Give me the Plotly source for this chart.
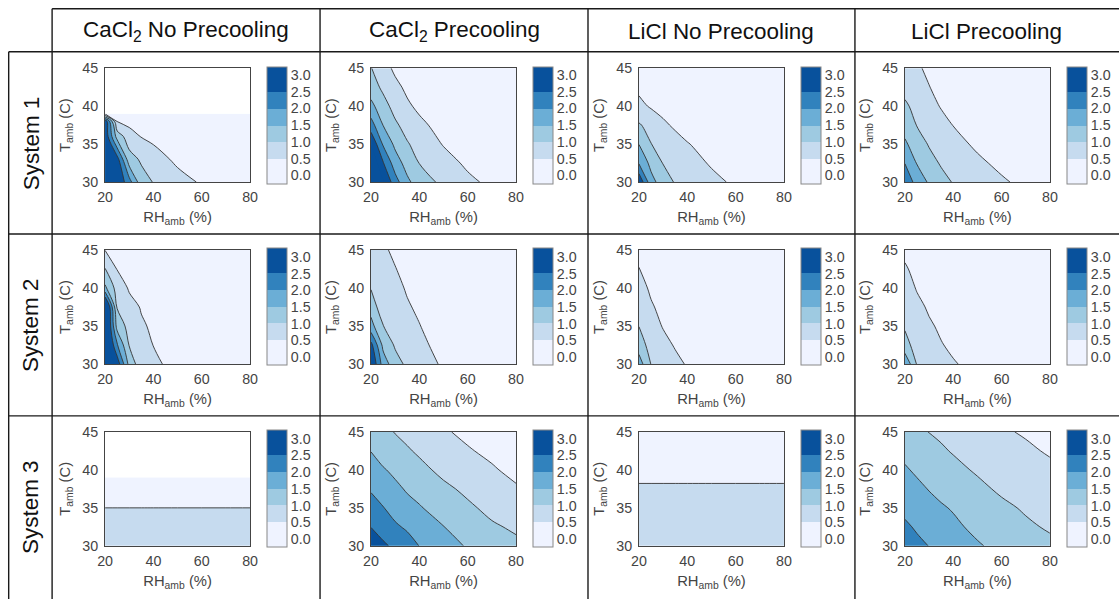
import plotly.graph_objects as go

# The photographed page area is a bit larger than the window (body margin 8px) and is
# scaled back to 1119x599, so reference pixels are mapped into figure pixels here.
REF_W, REF_H = 1119, 599
CAP_W, CAP_H, OFF = 1135, 615, 8
SX, SY = CAP_W / REF_W, CAP_H / REF_H
FW, FH = 1119, 599

# ---------------- data ----------------
RH = [20, 25, 30, 35, 40, 50, 60, 70, 80]          # RH_amb (%)
T_FULL = [30, 32.5, 35, 37.5, 40, 42.5, 45]        # T_amb (C)
T_CUT = [30, 33, 36, 38, 39]                       # panels with no data above ~39 C

COL_TITLES = ["CaCl<sub>2</sub> No Precooling", "CaCl<sub>2</sub> Precooling",
              "LiCl No Precooling", "LiCl Precooling"]
ROW_TITLES = ["System 1", "System 2", "System 3"]
X_TICKS = [20, 40, 60, 80]
Y_TICKS = [30, 35, 40, 45]
CB_TICKS = [0.0, 0.5, 1.0, 1.5, 2.0, 2.5, 3.0]

# System 1
Z_S1_CACL2_NOPRE = [
    [2.98, 2.95, 2.2, 1.2, 0.98, 0.71, 0.44, 0.3, 0.2],
    [2.95, 2.7, 1.2, 0.93, 0.75, 0.38, 0.25, 0.2, 0.15],
    [2.9, 1.3, 0.72, 0.48, 0.36, 0.26, 0.2, 0.15, 0.1],
    [2.9, 0.48, 0.35, 0.3, 0.27, 0.22, 0.18, 0.13, 0.1],
    [0.45, 0.35, 0.3, 0.27, 0.24, 0.2, 0.16, 0.12, 0.1],
]
Z_S1_CACL2_PRE = [
    [3.9, 3.07, 2.21, 1.6, 1.27, 0.87, 0.61, 0.39, 0.19],
    [3.5, 2.54, 1.74, 1.31, 0.99, 0.70, 0.41, 0.25, 0.1],
    [2.98, 1.94, 1.39, 1.04, 0.83, 0.47, 0.3, 0.15, 0.05],
    [2.21, 1.49, 1.08, 0.82, 0.59, 0.35, 0.2, 0.1, 0.02],
    [1.64, 1.18, 0.83, 0.56, 0.42, 0.25, 0.12, 0.05, 0.02],
    [1.23, 0.9, 0.6, 0.42, 0.32, 0.2, 0.1, 0.05, 0.02],
    [1.02, 0.66, 0.42, 0.32, 0.25, 0.15, 0.08, 0.03, 0.02],
]
Z_S1_LICL_NOPRE = [
    [2.93, 1.68, 1.24, 0.96, 0.85, 0.63, 0.42, 0.3, 0.2],
    [1.96, 1.35, 0.98, 0.84, 0.7, 0.45, 0.33, 0.22, 0.15],
    [1.49, 1.01, 0.83, 0.67, 0.52, 0.35, 0.25, 0.17, 0.1],
    [1.05, 0.82, 0.58, 0.43, 0.35, 0.25, 0.15, 0.1, 0.06],
    [0.62, 0.45, 0.35, 0.28, 0.22, 0.15, 0.1, 0.05, 0.03],
    [0.4, 0.3, 0.24, 0.2, 0.16, 0.1, 0.06, 0.03, 0.02],
    [0.25, 0.2, 0.16, 0.13, 0.1, 0.06, 0.04, 0.02, 0.01],
]
Z_S1_LICL_PRE = [
    [2.31, 1.84, 1.43, 1.17, 0.97, 0.77, 0.57, 0.37, 0.2],
    [1.99, 1.47, 1.18, 0.95, 0.83, 0.6, 0.38, 0.22, 0.1],
    [1.58, 1.24, 0.96, 0.81, 0.67, 0.41, 0.25, 0.12, 0.05],
    [1.3, 0.98, 0.82, 0.65, 0.49, 0.3, 0.17, 0.08, 0.02],
    [1.08, 0.85, 0.65, 0.47, 0.38, 0.22, 0.1, 0.03, 0.01],
    [0.85, 0.67, 0.51, 0.39, 0.3, 0.15, 0.07, 0.02, 0.01],
    [0.7, 0.55, 0.43, 0.33, 0.25, 0.12, 0.05, 0.02, 0.01],
]
# System 2
Z_S2_CACL2_NOPRE = [
    [3.5, 2.81, 1.33, 0.7, 0.6, 0.33, 0.22, 0.15, 0.1],
    [3.5, 2.05, 0.97, 0.73, 0.49, 0.3, 0.2, 0.14, 0.1],
    [3.5, 1.31, 0.83, 0.55, 0.44, 0.27, 0.18, 0.12, 0.08],
    [3.5, 0.95, 0.65, 0.47, 0.38, 0.24, 0.16, 0.1, 0.07],
    [1.6, 0.79, 0.45, 0.37, 0.3, 0.2, 0.13, 0.09, 0.06],
    [1.02, 0.48, 0.35, 0.3, 0.25, 0.17, 0.11, 0.07, 0.05],
    [0.49, 0.35, 0.28, 0.24, 0.2, 0.14, 0.09, 0.06, 0.04],
]
Z_S2_CACL2_PRE = [
    [3.03, 1.78, 1.19, 0.9, 0.74, 0.43, 0.3, 0.2, 0.14],
    [2.65, 1.37, 0.94, 0.75, 0.58, 0.38, 0.26, 0.18, 0.12],
    [1.67, 1.01, 0.84, 0.67, 0.51, 0.33, 0.22, 0.15, 0.1],
    [1.3, 0.68, 0.6, 0.53, 0.45, 0.3, 0.2, 0.13, 0.09],
    [0.97, 0.7, 0.58, 0.47, 0.38, 0.26, 0.17, 0.11, 0.08],
    [0.82, 0.62, 0.51, 0.42, 0.34, 0.23, 0.15, 0.1, 0.07],
    [0.7, 0.54, 0.45, 0.37, 0.3, 0.2, 0.13, 0.09, 0.06],
]
Z_S2_LICL_NOPRE = [
    [1.75, 0.98, 0.82, 0.62, 0.46, 0.33, 0.24, 0.17, 0.12],
    [1.25, 0.8, 0.64, 0.46, 0.38, 0.28, 0.2, 0.14, 0.1],
    [0.99, 0.7, 0.47, 0.38, 0.31, 0.23, 0.16, 0.11, 0.08],
    [0.8, 0.54, 0.4, 0.32, 0.26, 0.19, 0.13, 0.09, 0.06],
    [0.64, 0.44, 0.33, 0.27, 0.22, 0.16, 0.11, 0.07, 0.05],
    [0.51, 0.36, 0.28, 0.23, 0.19, 0.13, 0.09, 0.06, 0.04],
    [0.4, 0.3, 0.24, 0.2, 0.16, 0.11, 0.07, 0.05, 0.03],
]
Z_S2_LICL_PRE = [
    [1.95, 0.95, 0.85, 0.7, 0.53, 0.38, 0.27, 0.18, 0.12],
    [1.15, 0.82, 0.7, 0.52, 0.43, 0.3, 0.21, 0.14, 0.1],
    [0.95, 0.74, 0.55, 0.44, 0.37, 0.26, 0.18, 0.12, 0.08],
    [0.82, 0.6, 0.45, 0.37, 0.31, 0.22, 0.15, 0.1, 0.06],
    [0.68, 0.47, 0.38, 0.31, 0.26, 0.18, 0.12, 0.08, 0.05],
    [0.54, 0.4, 0.32, 0.26, 0.22, 0.15, 0.1, 0.07, 0.04],
    [0.42, 0.33, 0.27, 0.22, 0.18, 0.12, 0.08, 0.05, 0.03],
]
# System 3
Z_S3_CACL2_NOPRE = [
    [0.7] * 9,
    [0.6] * 9,
    [0.45] * 9,
    [0.42] * 9,
    [0.4] * 9,
]
Z_S3_CACL2_PRE = [
    [2.79, 2.59, 2.39, 2.2, 1.99, 1.73, 1.45, 1.25, 1.1],
    [2.49, 2.27, 2.07, 1.93, 1.8, 1.51, 1.25, 1.06, 0.93],
    [2.2, 2.02, 1.82, 1.65, 1.54, 1.28, 1.08, 0.88, 0.72],
    [1.95, 1.75, 1.6, 1.45, 1.33, 1.1, 0.9, 0.72, 0.55],
    [1.68, 1.54, 1.4, 1.25, 1.13, 0.88, 0.7, 0.55, 0.38],
    [1.49, 1.3, 1.17, 1.05, 0.93, 0.74, 0.54, 0.4, 0.28],
    [1.3, 1.12, 0.98, 0.87, 0.75, 0.55, 0.4, 0.28, 0.18],
]
Z_S3_LICL_NOPRE = [
    [0.7] * 9,
    [0.7] * 9,
    [0.7] * 9,
    [0.58] * 9,
    [0.3] * 9,
    [0.3] * 9,
    [0.3] * 9,
]
Z_S3_LICL_PRE = [
    [2.22, 2.11, 1.99, 1.88, 1.77, 1.55, 1.36, 1.22, 1.1],
    [2.08, 1.94, 1.8, 1.67, 1.6, 1.38, 1.2, 1.07, 0.95],
    [1.88, 1.76, 1.65, 1.55, 1.46, 1.25, 1.09, 0.95, 0.82],
    [1.72, 1.6, 1.48, 1.37, 1.25, 1.1, 0.93, 0.8, 0.68],
    [1.55, 1.43, 1.3, 1.2, 1.11, 0.95, 0.8, 0.7, 0.6],
    [1.38, 1.26, 1.15, 1.05, 0.97, 0.83, 0.68, 0.58, 0.45],
    [1.22, 1.1, 0.99, 0.93, 0.86, 0.7, 0.56, 0.45, 0.35],
]

PANELS = [
    [(T_CUT, Z_S1_CACL2_NOPRE), (T_FULL, Z_S1_CACL2_PRE), (T_FULL, Z_S1_LICL_NOPRE), (T_FULL, Z_S1_LICL_PRE)],
    [(T_FULL, Z_S2_CACL2_NOPRE), (T_FULL, Z_S2_CACL2_PRE), (T_FULL, Z_S2_LICL_NOPRE), (T_FULL, Z_S2_LICL_PRE)],
    [(T_CUT, Z_S3_CACL2_NOPRE), (T_FULL, Z_S3_CACL2_PRE), (T_FULL, Z_S3_LICL_NOPRE), (T_FULL, Z_S3_LICL_PRE)],
]

# ---------------- style ----------------
BAND_COLORS = ["#eff3ff", "#eff3ff", "#c6dbef", "#9ecae1", "#6baed6", "#3182bd", "#08519c", "#08519c"]
colorscale = []
nb = len(BAND_COLORS) - 1
for k, c in enumerate(BAND_COLORS):
    lo = max(0.0, (k - 0.5) / nb)
    hi = min(1.0, (k + 0.5) / nb)
    colorscale.append([lo, c])
    colorscale.append([hi, c])

FONT = "Liberation Sans, Arial, sans-serif"
TICK_COLOR = "#444444"
PLOT_LEFT = [105, 371, 639, 905]      # reference pixels
PLOT_TOP = [68, 250, 432]
PW, PH = 145, 114
CB_OFF, CB_W = 162, 20
FS = (SX + SY) / 2                    # font scale


def fx(px):
    return (px * SX - OFF) / FW


def fy(py):
    return 1 - (py * SY - OFF) / FH


fig = go.Figure()
layout_axes = {}
for r in range(3):
    for c in range(4):
        idx = r * 4 + c + 1
        T, Z = PANELS[r][c]
        xa = "x" if idx == 1 else f"x{idx}"
        ya = "y" if idx == 1 else f"y{idx}"
        left, top = PLOT_LEFT[c], PLOT_TOP[r]
        fig.add_trace(go.Contour(
            x=RH, y=T, z=Z, xaxis=xa, yaxis=ya,
            autocontour=False,
            contours=dict(start=0, end=3, size=0.5, coloring="fill", showlines=False),
            line=dict(width=0),
            colorscale=colorscale,
            hoverinfo="skip",
            colorbar=dict(
                x=fx(left + CB_OFF), xanchor="left", xpad=0,
                y=fy(top + PH / 2), yanchor="middle", ypad=0,
                len=PH * SY, lenmode="pixels", thickness=CB_W * SX, thicknessmode="pixels",
                outlinewidth=1, outlinecolor="#888888",
                tickvals=CB_TICKS, ticktext=[f"{v:.1f}" for v in CB_TICKS],
                tickfont=dict(family=FONT, size=14 * FS, color=TICK_COLOR),
                ticks="",
            ),
        ))
        fig.add_trace(go.Contour(
            x=RH, y=T, z=Z, xaxis=xa, yaxis=ya,
            autocontour=False,
            contours=dict(start=0.5, end=2.5, size=0.5, coloring="none", showlines=True),
            line=dict(color="#333333", width=0.9),
            showscale=False, hoverinfo="skip",
        ))
        kx = "xaxis" if idx == 1 else f"xaxis{idx}"
        ky = "yaxis" if idx == 1 else f"yaxis{idx}"
        layout_axes[kx] = dict(
            domain=[fx(left), fx(left + PW)], anchor=ya, range=[20, 80],
            tickvals=X_TICKS, ticks="", showgrid=False, zeroline=False,
            showline=True, mirror=True, linecolor="#444444", linewidth=1,
            tickfont=dict(family=FONT, size=14 * FS, color=TICK_COLOR),
            ticklabelstandoff=2,
            title=dict(text="RH<sub>amb</sub> (%)", standoff=7,
                       font=dict(family=FONT, size=14.5 * FS, color=TICK_COLOR)),
        )
        layout_axes[ky] = dict(
            domain=[fy(top + PH), fy(top)], anchor=xa, range=[30, 45],
            tickvals=Y_TICKS, ticks="", showgrid=False, zeroline=False,
            showline=True, mirror=True, linecolor="#444444", linewidth=1,
            tickfont=dict(family=FONT, size=14 * FS, color=TICK_COLOR),
            ticklabelstandoff=3,
            title=dict(text="T<sub>amb</sub> (C)", standoff=8,
                       font=dict(family=FONT, size=14.5 * FS, color=TICK_COLOR)),
        )

# table grid
LINE = dict(color="#1a1a1a", width=1.4)
shapes = []
EDGE = (OFF + 0.7) / SX               # first drawable reference pixel


def hline(y, x0, x1):
    shapes.append(dict(type="line", xref="paper", yref="paper",
                       x0=fx(x0), x1=fx(x1), y0=fy(y), y1=fy(y), line=LINE))


def vline(x, y0, y1):
    shapes.append(dict(type="line", xref="paper", yref="paper",
                       x0=fx(x), x1=fx(x), y0=fy(y0), y1=fy(y1), line=LINE))


TOP_EDGE = (OFF + 0.7) / SY
hline(TOP_EDGE, 52, REF_W + 20)
for yy in [51.5, 234, 416]:
    hline(yy, EDGE, REF_W + 20)
vline(EDGE, 51.5, REF_H + 20)
for xx in [52, 320, 588, 855]:
    vline(xx, TOP_EDGE, REF_H + 20)

annotations = []
COL_CENTERS = [186, 454, 721.5, 987]
for c, t in enumerate(COL_TITLES):
    annotations.append(dict(text=t, x=fx(COL_CENTERS[c]), y=fy(31), xref="paper", yref="paper",
                            showarrow=False, xanchor="center", yanchor="middle",
                            font=dict(family=FONT, size=22 * FS, color="#111111")))
ROW_CENTERS = [143, 325, 507]
for r, t in enumerate(ROW_TITLES):
    annotations.append(dict(text=t, x=fx(31), y=fy(ROW_CENTERS[r]), xref="paper", yref="paper",
                            showarrow=False, xanchor="center", yanchor="middle", textangle=-90,
                            font=dict(family=FONT, size=22 * FS, color="#111111")))

fig.update_layout(
    width=FW, height=FH, margin=dict(l=0, r=0, t=0, b=0),
    paper_bgcolor="white", plot_bgcolor="white",
    showlegend=False, shapes=shapes, annotations=annotations,
    font=dict(family=FONT),
    **layout_axes,
)
fig.write_html("out.html")
